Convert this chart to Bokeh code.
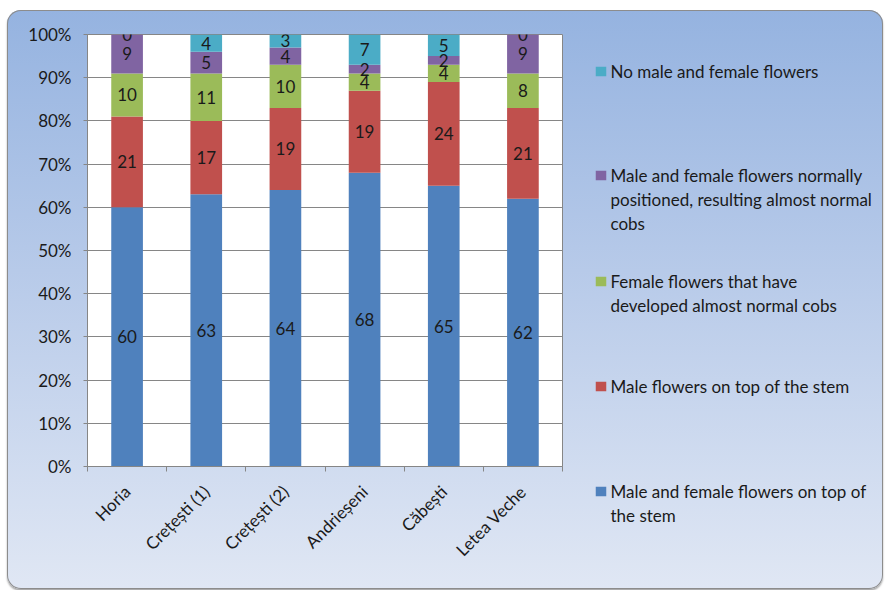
import numpy as np
from bokeh.plotting import figure
from bokeh.layouts import row
from bokeh.models import (ColumnDataSource, LabelSet, FixedTicker, PrintfTickFormatter, Range1d)
from bokeh.core.properties import value
from bokeh.embed import file_html
from bokeh.resources import INLINE

# ---------------- data ----------------
categories = ["Horia", "Crețești (1)", "Crețești (2)", "Andrieșeni", "Căbești", "Letea Veche"]
both_top = [60, 63, 64, 68, 65, 62]          # Male and female flowers on top of the stem
male_top = [21, 17, 19, 19, 24, 21]          # Male flowers on top of the stem
female_cobs = [10, 11, 10, 4, 4, 8]          # Female flowers that have developed almost normal cobs
normal_pos = [9, 5, 4, 2, 2, 9]              # Male and female flowers normally positioned
no_flowers = [0, 4, 3, 7, 5, 0]              # No male and female flowers
y_ticks = [0, 10, 20, 30, 40, 50, 60, 70, 80, 90, 100]

series_keys = ["both_top", "male_top", "female_cobs", "normal_pos", "no_flowers"]
series_values = [both_top, male_top, female_cobs, normal_pos, no_flowers]
series_names = [
    ["Male and female flowers  on top of", "the stem"],
    ["Male flowers on top of the stem"],
    ["Female flowers that have", "developed almost normal cobs"],
    ["Male and female flowers normally", "positioned, resulting almost normal", "cobs"],
    ["No male and female flowers"],
]
colors = ["#4f81bd", "#c0504d", "#9bbb59", "#8064a2", "#4bacc6"]

FONT = "Lato"
TXT = "#1a1a1a"
AXC = "#868686"
FS = "17px"

n = len(categories)
xs = [i + 0.5 for i in range(n)]

data = {"x": xs}
for k, v in zip(series_keys, series_values):
    data[k] = v
source = ColumnDataSource(data=data)

# box (rounded chart area) spans picture x 7..883, y 10..589
BOX_W, BOX_H = 876, 579
MAIN_W = 575

p = figure(width=MAIN_W, height=BOX_H, x_range=(0, n), y_range=(0, 100),
           output_backend="svg", toolbar_location=None,
           min_border_left=80, min_border_right=MAIN_W - 555,
           min_border_top=24, min_border_bottom=BOX_H - 456,
           border_fill_color=None, background_fill_color="white",
           outline_line_color=AXC)

p.vbar_stack(series_keys, x="x", width=0.4, color=colors, line_color=None, source=source)

# data labels
arr = np.array(series_values, dtype=float)
cum = np.cumsum(arr, axis=0)
lx, ly, lt = [], [], []
for s in range(arr.shape[0]):
    for i in range(n):
        lx.append(xs[i])
        ly.append(cum[s, i] - arr[s, i] / 2.0)
        lt.append(str(int(arr[s, i])))
lab_src = ColumnDataSource(data=dict(x=lx, y=ly, t=lt))
p.add_layout(LabelSet(x="x", y="y", text="t", source=lab_src,
                      text_align="center", text_baseline="middle",
                      text_font=value(FONT), text_font_size=value(FS), text_color=TXT))

# axes
p.xgrid.visible = False
p.ygrid.grid_line_color = AXC
p.yaxis.ticker = FixedTicker(ticks=y_ticks)
p.yaxis.formatter = PrintfTickFormatter(format="%d%%")
p.yaxis.axis_line_color = AXC
p.yaxis.major_tick_line_color = AXC
p.yaxis.major_tick_out = 4
p.yaxis.major_tick_in = 0
p.yaxis.minor_tick_line_color = None
p.yaxis.major_label_standoff = 12
p.yaxis.major_label_text_font = FONT
p.yaxis.major_label_text_font_size = FS
p.yaxis.major_label_text_color = TXT

p.xaxis.ticker = FixedTicker(ticks=xs, minor_ticks=list(range(n + 1)))
p.xaxis.major_label_overrides = {x: c for x, c in zip(xs, categories)}
p.xaxis.axis_line_color = AXC
p.xaxis.major_tick_line_color = None
p.xaxis.minor_tick_line_color = AXC
p.xaxis.minor_tick_out = 5
p.xaxis.minor_tick_in = 0
p.xaxis.major_label_orientation = np.pi / 4
p.xaxis.major_label_standoff = 16
p.xaxis.major_label_text_font = FONT
p.xaxis.major_label_text_font_size = FS
p.xaxis.major_label_text_color = TXT

# legend panel: a second transparent figure whose ranges are the picture's pixels
LEG_X0 = 7 + MAIN_W
leg = figure(width=BOX_W - MAIN_W, height=BOX_H,
             x_range=Range1d(LEG_X0, 7 + BOX_W), y_range=Range1d(10 + BOX_H, 10),
             output_backend="svg", toolbar_location=None,
             x_axis_location=None, y_axis_location=None,
             min_border=0, border_fill_color=None, background_fill_color=None,
             outline_line_color=None)
leg.grid.visible = False
for fig in (p, leg):
    if "frame_align" in fig.properties():
        fig.frame_align = False

legend_order = [4, 3, 2, 1, 0]
first_line_centers = [71, 175, 281, 386, 491]
line_step = 24
sq_x, sq_y, sq_c = [], [], []
tx, ty, tt = [], [], []
for idx, cy in zip(legend_order, first_line_centers):
    sq_x.append(600.5)
    sq_y.append(cy)
    sq_c.append(colors[idx])
    for j, line in enumerate(series_names[idx]):
        tx.append(610)
        ty.append(cy + j * line_step)
        tt.append(line)
leg.rect(x=sq_x, y=sq_y, width=10.5, height=9.5, fill_color=sq_c, line_color=None)
leg.text(x=tx, y=ty, text=tt, text_align="left", text_baseline="middle",
         text_font=value(FONT), text_font_size=value(FS), text_color=TXT)

lay = row(p, leg)
lay.styles = {
    "margin-left": "7px",
    "margin-top": "10px",
    "background": "linear-gradient(to bottom, #95b3e0 0%, #b7cae9 45%, #e0e7f4 100%)",
    "border-radius": "14px",
    "box-shadow": "inset 0 0 0 1px #8c8c8c, 0px 2px 2px rgba(0,0,0,0.35)",
}

open("out.html", "w").write(file_html(lay, INLINE))
